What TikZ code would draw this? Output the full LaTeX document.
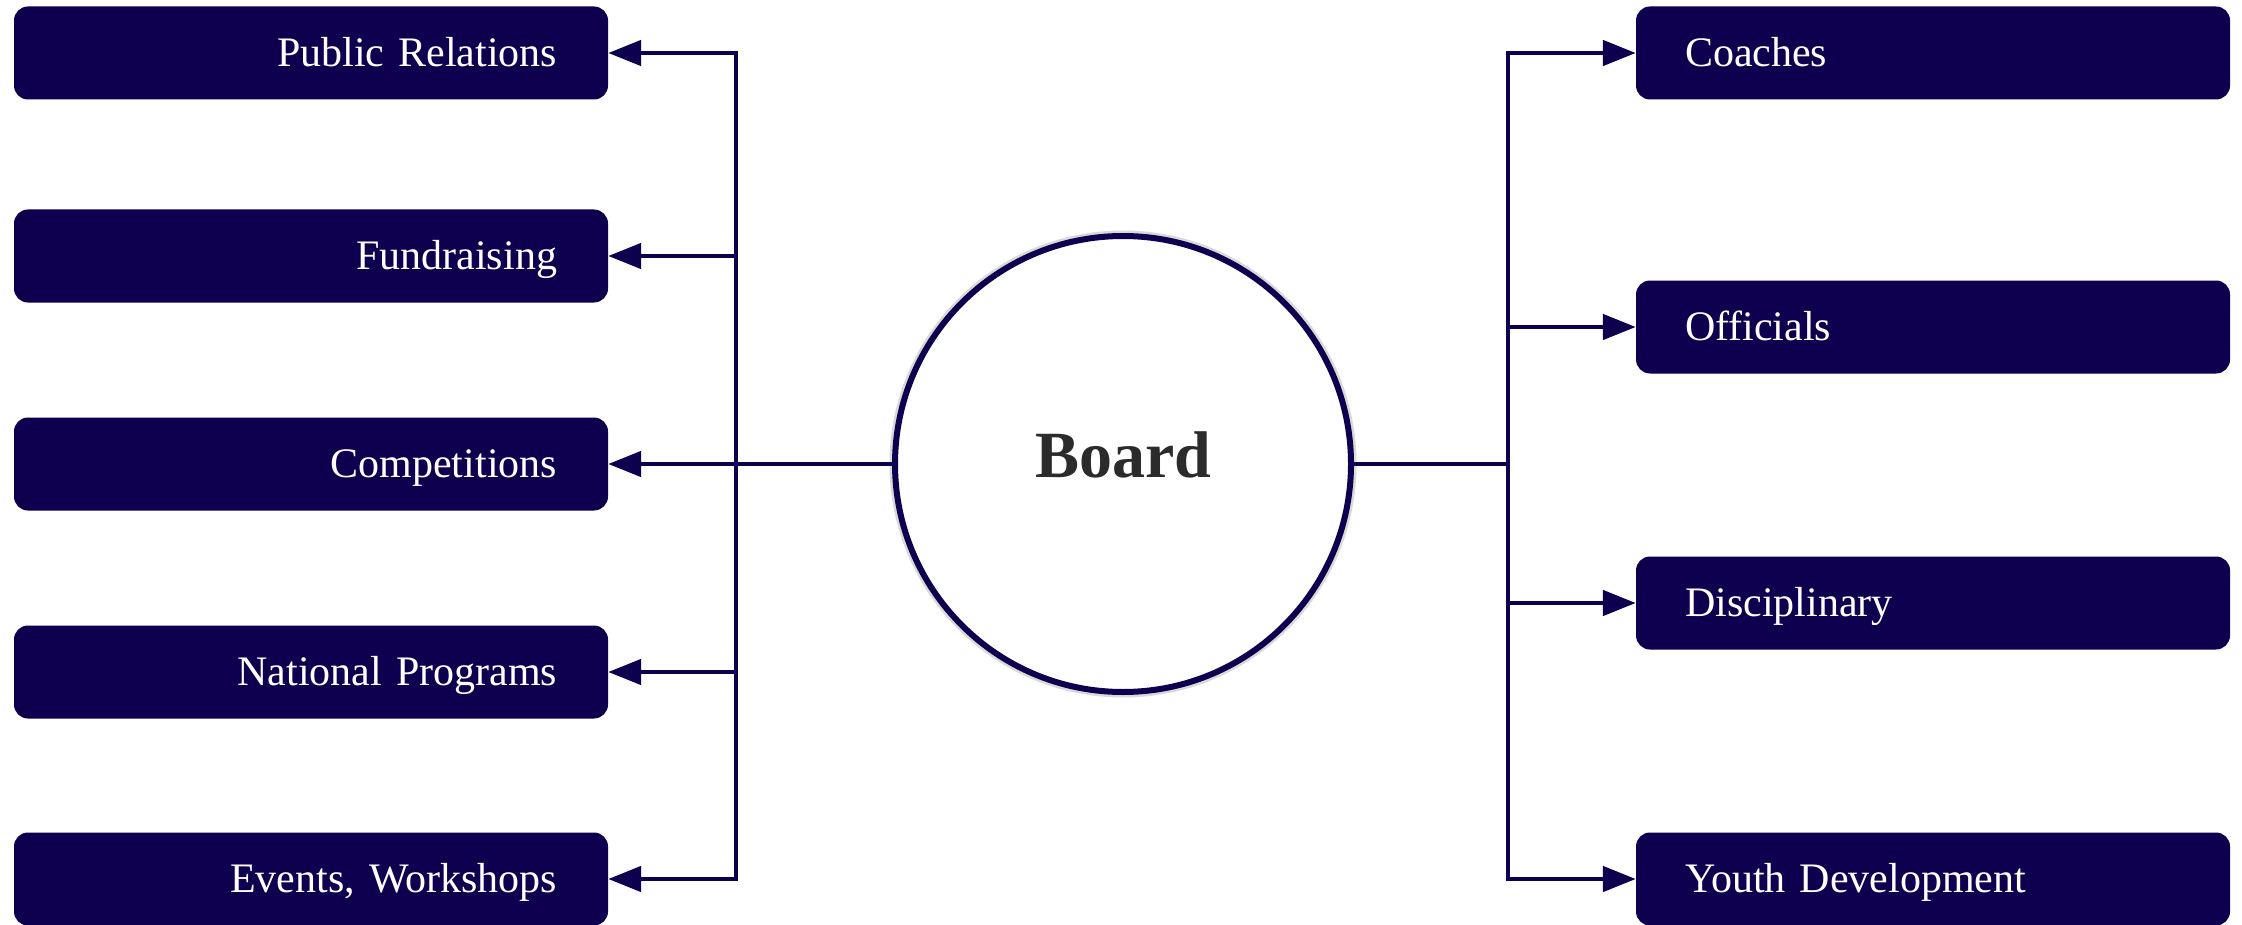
\documentclass[tikz,border=0pt]{standalone}
\usepackage{fontspec}
\setmainfont{Liberation Serif}
\usetikzlibrary{arrows.meta}
\definecolor{navy}{HTML}{0E004E}
\definecolor{boardtext}{HTML}{2B2B2B}
\begin{document}
\begin{tikzpicture}[x=1pt,y=-1pt,
  unitbox/.style={fill=navy, rounded corners=14pt, minimum width=594pt, minimum height=93pt,
    text=white, font=\fontsize{42pt}{50pt}\selectfont, text height=35pt, text depth=8pt, inner ysep=0pt},
  leftbox/.style={unitbox, text width=492pt, inner xsep=51pt, align=right},
  rightbox/.style={unitbox, text width=496pt, inner xsep=49pt, align=left},
  conn/.style={draw=navy, line width=4.8pt},
  arr/.style={conn, -{Triangle[length=33pt,width=25pt]}},
  boardnode/.style={circle, draw=navy, line width=6pt, fill=white, minimum size=456pt, inner sep=0pt,
    preaction={draw=black!15, line width=11pt},
    text=boardtext, font=\fontsize{66pt}{70pt}\selectfont\bfseries, text height=43pt, text depth=17pt},
]
\fill[white] (0,0) rectangle (2242,925);
\useasboundingbox (0,0) rectangle (2242,925);

\node[leftbox] (pr) at (311,53) {Public Relations};
\node[leftbox] (fund) at (311,256) {Fundraising};
\node[leftbox] (comp) at (311,464) {Competitions};
\node[leftbox] (natp) at (311,672) {National Programs};
\node[leftbox] (evt) at (311,879) {Events, Workshops};

\node[rightbox] (coach) at (1933,53) {Coaches};
\node[rightbox] (offi) at (1933,327) {Officials};
\node[rightbox] (disc) at (1933,603) {Disciplinary};
\node[rightbox] (youth) at (1933,879) {Youth Development};

\node[boardnode] (board) at (1123,464) {Board};

\coordinate (jl) at (736,464);
\coordinate (jr) at (1508,464);

\draw[conn] (board.west) -- (jl);
\draw[arr] (jl) -- (comp.east);
\draw[arr] (jl) |- (pr.east);
\draw[arr] (jl) |- (fund.east);
\draw[arr] (jl) |- (natp.east);
\draw[arr] (jl) |- (evt.east);

\draw[conn] (board.east) -- (jr);
\draw[arr] (jr) |- (coach.west);
\draw[arr] (jr) |- (offi.west);
\draw[arr] (jr) |- (disc.west);
\draw[arr] (jr) |- (youth.west);
\end{tikzpicture}
\end{document}
